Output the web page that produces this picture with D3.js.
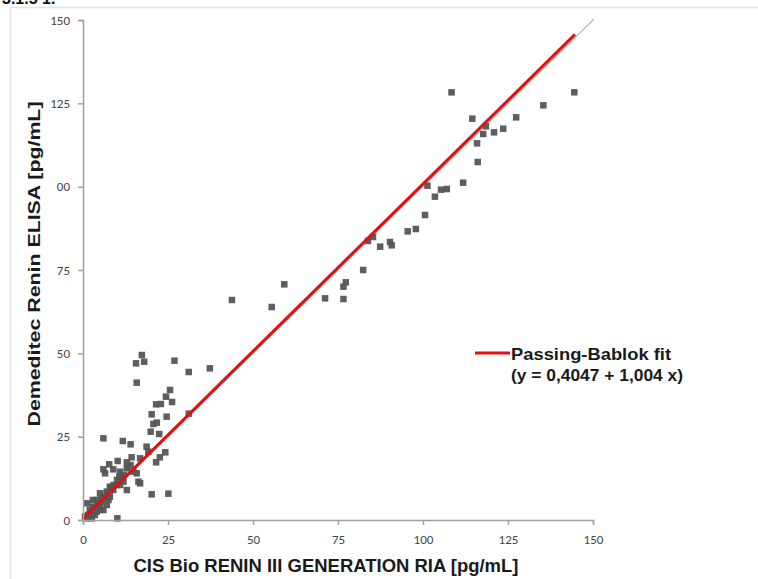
<!DOCTYPE html>
<html>
<head>
<meta charset="utf-8">
<script src="https://cdn.jsdelivr.net/npm/d3@7"></script>
<style>
  body { margin: 0; background: #fff; }
  svg { display: block; }
</style>
</head>
<body>
<script>
  var width = 758;
  var height = 579;

  // tick values and the labels as printed in the figure
  var tickValues = [0, 25, 50, 75, 100, 125, 150];
  var xTickLabels = ["0", "25", "50", "75", "100", "125", "150"];
  var yTickLabels = ["0", "25", "50", "75", "00", "125", "150"];

  // fit: y = a + b x
  var fitIntercept = 0.4047;
  var fitSlope = 1.004;
  var fitRange = [0, 144.7];
  var identityRange = [0, 150.3];

  // measured values, RIA (x) vs ELISA (y), pg/mL
  var riaValues = [
    108.4, 144.5, 135.4, 127.4, 114.5, 118.5, 117.7, 120.9, 123.6, 115.9,
    116.1, 111.8, 101.3, 105.3, 107.0, 103.5, 100.6, 97.9, 95.5, 90.3,
    90.8, 87.4, 83.8, 85.3, 82.4, 77.3, 76.6, 76.6, 71.2, 59.2,
    55.5, 43.8, 37.3,
    17.3, 15.6, 18.0, 26.9, 31.1, 15.8, 25.6, 24.4, 26.2, 21.5,
    22.9, 20.2, 24.6, 31.1, 21.7, 20.7, 19.9, 22.4, 6.0, 11.7,
    14.0, 18.7, 19.2, 24.2, 22.6, 21.5, 14.3, 16.8, 12.9, 10.2,
    7.7, 6.0, 6.5, 8.9, 10.9, 12.9, 14.8, 15.8, 10.7, 11.9,
    16.3, 16.8, 9.9, 7.9, 8.9, 7.0, 5.0, 6.5, 12.9, 20.2,
    25.1, 4.0, 1.1, 3.0, 5.0, 7.0, 2.1, 4.0, 0.6, 2.6,
    6.0, 10.1, 2.9, 5.5, 7.9, 8.4, 10.9,
    1.5, 3.0, 4.5, 5.5, 7.0, 8.0, 9.0, 10.0, 11.0, 12.0,
    13.0, 14.0, 3.5, 2.0, 1.0, 5.0, 6.0, 7.5
  ];
  var elisaValues = [
    128.3, 128.3, 124.4, 120.8, 120.4, 118.1, 115.8, 116.3, 117.4, 113.0,
    107.4, 101.2, 100.3, 99.1, 99.3, 97.0, 91.5, 87.3, 86.6, 83.4,
    82.4, 82.0, 83.7, 84.9, 75.0, 71.3, 70.0, 66.3, 66.5, 70.7,
    63.9, 66.0, 45.5,
    49.5, 47.0, 47.5, 47.8, 44.4, 41.2, 39.0, 37.0, 35.4, 34.7,
    34.8, 31.7, 31.0, 31.9, 29.2, 28.8, 26.5, 25.8, 24.5, 23.7,
    22.7, 22.0, 20.5, 20.3, 18.8, 17.3, 18.8, 18.5, 17.3, 17.7,
    16.7, 15.2, 14.0, 15.2, 14.5, 15.5, 14.5, 14.0, 13.0, 11.5,
    11.5, 11.0, 10.5, 10.0, 9.0, 8.5, 8.0, 7.0, 9.0, 7.7,
    7.9, 6.0, 5.0, 4.0, 4.0, 4.5, 2.0, 2.5, 1.0, 0.5,
    3.0, 0.5, 6.0, 6.5, 7.0, 9.5, 10.5,
    1.5, 3.5, 5.0, 5.5, 8.0, 9.0, 10.5, 12.0, 13.0, 13.5,
    16.0, 16.5, 1.5, 3.0, 0.5, 3.0, 6.5, 6.0
  ];

  var points = riaValues.map(function(v, i) { return { x: v, y: elisaValues[i] }; });

  var x = d3.scaleLinear().domain([0, 150]).range([83, 593]);
  var y = d3.scaleLinear().domain([0, 150]).range([520, 20]);

  var svg = d3.select("body")
    .append("svg")
    .attr("width", width)
    .attr("height", height);

  // page frame and the cut heading above the figure
  svg.append("path")
    .attr("d", "M10.5," + height + "V7.5H" + width)
    .style("fill", "none")
    .style("stroke", "#e3e3e3")
    .style("stroke-width", 1.5);

  svg.append("text")
    .attr("x", 2)
    .attr("y", 4)
    .style("font-family", "Liberation Sans, Arial, sans-serif")
    .style("font-weight", "bold")
    .style("font-size", "16px")
    .style("fill", "#111")
    .text("3.1.5 1.");

  // identity line (grey) under the fit line
  svg.append("line")
    .attr("x1", x(identityRange[0]))
    .attr("y1", y(identityRange[0]))
    .attr("x2", x(identityRange[1]))
    .attr("y2", y(identityRange[1]))
    .style("stroke", "#b8b8b8")
    .style("stroke-width", 1.2);

  // points
  svg.selectAll("rect.pt")
    .data(points)
    .enter()
    .append("rect")
    .attr("class", "pt")
    .attr("x", function(d) { return x(d.x) - 3.25; })
    .attr("y", function(d) { return y(d.y) - 3.25; })
    .attr("width", 6.5)
    .attr("height", 6.5)
    .style("fill", "#555")
    .style("opacity", 0.95);

  // Passing-Bablok fit line
  svg.append("line")
    .attr("x1", x(fitRange[0]))
    .attr("y1", y(fitIntercept + fitSlope * fitRange[0]))
    .attr("x2", x(fitRange[1]))
    .attr("y2", y(fitIntercept + fitSlope * fitRange[1]))
    .style("stroke", "#e01010")
    .style("stroke-width", 3);

  // axes
  var xAxis = d3.axisBottom(x)
    .tickValues(tickValues)
    .tickFormat(function(d, i) { return xTickLabels[i]; })
    .tickSize(5)
    .tickPadding(10);

  var yAxis = d3.axisLeft(y)
    .tickValues(tickValues)
    .tickFormat(function(d, i) { return yTickLabels[i]; })
    .tickSize(5)
    .tickPadding(8);

  var gx = svg.append("g")
    .attr("transform", "translate(0," + y(0) + ")")
    .call(xAxis);

  var gy = svg.append("g")
    .attr("transform", "translate(" + x(0) + ",0)")
    .call(yAxis);

  [gx, gy].forEach(function(g) {
    g.selectAll("path, line")
      .style("stroke", "#a0a0a0")
      .style("stroke-width", 1.5);
    g.selectAll("text")
      .style("font-family", "Carlito, 'Liberation Sans Narrow', 'Open Sans', sans-serif")
      .style("font-size", "13px")
      .style("fill", "#444");
  });

  // axis titles
  svg.append("text")
    .attr("x", 326)
    .attr("y", 572)
    .attr("text-anchor", "middle")
    .attr("textLength", 385)
    .attr("lengthAdjust", "spacingAndGlyphs")
    .style("font-family", "Liberation Sans, Arial, sans-serif")
    .style("font-weight", "bold")
    .style("font-size", "18px")
    .style("fill", "#1a1a1a")
    .text("CIS Bio RENIN III GENERATION  RIA [pg/mL]");

  svg.append("text")
    .attr("transform", "translate(40,264) rotate(-90)")
    .attr("text-anchor", "middle")
    .attr("textLength", 325)
    .attr("lengthAdjust", "spacingAndGlyphs")
    .style("font-family", "Liberation Sans, Arial, sans-serif")
    .style("font-weight", "bold")
    .style("font-size", "17px")
    .style("fill", "#1a1a1a")
    .text("Demeditec Renin ELISA [pg/mL]");

  // legend
  var legend = svg.append("g").attr("transform", "translate(475,353)");

  legend.append("line")
    .attr("x1", 0)
    .attr("x2", 35)
    .style("stroke", "#e01010")
    .style("stroke-width", 3);

  legend.append("text")
    .attr("x", 36)
    .attr("y", 7)
    .attr("textLength", 160)
    .attr("lengthAdjust", "spacingAndGlyphs")
    .style("font-family", "Liberation Sans, Arial, sans-serif")
    .style("font-weight", "bold")
    .style("font-size", "17px")
    .style("fill", "#1a1a1a")
    .text("Passing-Bablok fit");

  legend.append("text")
    .attr("x", 36)
    .attr("y", 28)
    .attr("textLength", 172)
    .attr("lengthAdjust", "spacingAndGlyphs")
    .style("font-family", "Liberation Sans, Arial, sans-serif")
    .style("font-weight", "bold")
    .style("font-size", "17px")
    .style("fill", "#1a1a1a")
    .text("(y = 0,4047 + 1,004 x)");
</script>
</body>
</html>
